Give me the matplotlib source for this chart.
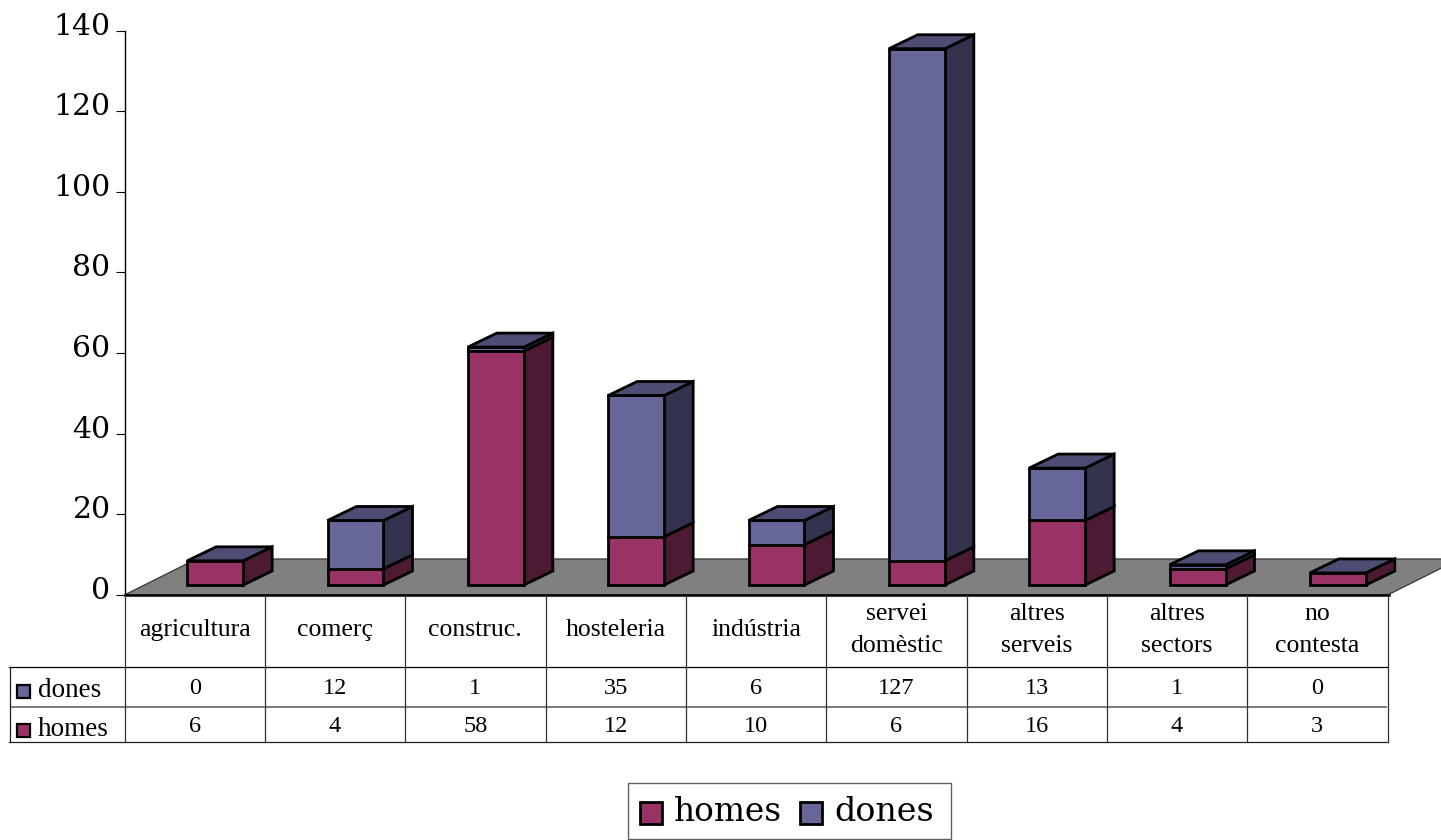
import matplotlib
matplotlib.use("Agg")
import matplotlib.pyplot as plt
from matplotlib.transforms import ScaledTranslation
from matplotlib.patches import Rectangle

categories = ["agricultura", "comerç", "construc.", "hosteleria", "indústria",
              "servei\ndomèstic", "altres\nserveis", "altres\nsectors", "no\ncontesta"]
dones = [0, 12, 1, 35, 6, 127, 13, 1, 0]
homes = [6, 4, 58, 12, 10, 6, 16, 4, 3]
yticks = [0, 20, 40, 60, 80, 100, 120, 140]

W, H = 1441, 840
HOME = "#993366"
HOME_SIDE = "#4d1a33"
DONA = "#666699"
DONA_SIDE = "#33334d"
TOP = "#4d4d73"
FLOOR = "#808080"
SERIF = "DejaVu Serif"
TABLE_FONT = "Liberation Serif"
EDGE = 2.0

fig = plt.figure(figsize=(W / 100, H / 100), dpi=100, facecolor="white")

# plot area, the 3d stuff is just offsets from here
left, right, top, zero = 124.5, 1387.5, 30.5, 595
ax = fig.add_axes([left / W, 1 - zero / H, (right - left) / W, (zero - top) / H])
ax.set_xlim(-0.5, 8.5)
ax.set_ylim(0, 140)
ppx = (right - left) / 9
ppy = (zero - top) / 140

for s in ["top", "right", "bottom"]:
    ax.spines[s].set_visible(False)
ax.spines["left"].set_linewidth(1)
ax.set_xticks([])
ax.set_yticks(yticks)
ax.tick_params(axis="y", length=6.5, width=0.8, pad=3.5, labelsize=21.5)
for lab in ax.get_yticklabels():
    lab.set_family(SERIF)
    lab.set_transform(lab.get_transform() + ScaledTranslation(0, 5 / 72, fig.dpi_scale_trans))

# floor
fdx, fdy = 72 / ppx, 36 / ppy
ax.fill([-0.5, 8.5, 8.5 + fdx, -0.5 + fdx], [0, 0, fdy, fdy], facecolor=FLOOR,
        edgecolor="#404040", linewidth=1, clip_on=False, zorder=1)

# bars
dx, dy = 29 / ppx, 14 / ppy
shift, half = 20.5 / ppx, 28 / ppx
base = 10 / ppy


def box(ax, x0, x1, y0, y1, front, side):
    kw = dict(edgecolor="black", linewidth=EDGE, joinstyle="miter", clip_on=False, zorder=3)
    ax.fill([x1, x1 + dx, x1 + dx, x1], [y0, y0 + dy, y1 + dy, y1], facecolor=side, **kw)
    ax.fill([x0, x1, x1, x0], [y0, y0, y1, y1], facecolor=front, **kw)


for i in range(len(categories)):
    x0, x1 = i + shift - half, i + shift + half
    y1 = base + homes[i]
    y2 = y1 + dones[i]
    box(ax, x0, x1, base, y1, HOME, HOME_SIDE)
    if dones[i] > 0:
        box(ax, x0, x1, y1, y2, DONA, DONA_SIDE)
    ax.fill([x0, x1, x1 + dx, x0 + dx], [y2, y2, y2 + dy, y2 + dy], facecolor=TOP,
            edgecolor="black", linewidth=EDGE, joinstyle="miter", clip_on=False, zorder=3)

# table and legend in pixel coords
ov = fig.add_axes([0, 0, 1, 1], facecolor="none")
ov.set_xlim(0, W)
ov.set_ylim(H, 0)
ov.axis("off")

r0, r1, r2, r3 = 595, 667, 706.5, 742
ov.plot([left, right + 1], [r0, r0], color="black", lw=1.8)
ov.plot([9, right], [r1, r1], color="black", lw=0.9)
ov.plot([12, right - 2], [r2, r2], color="#707070", lw=1.3)
ov.plot([9, right], [r3, r3], color="#202020", lw=0.9)
ov.plot([9.5, 9.5], [r1, r3], color="#202020", lw=0.9)
for i in range(10):
    xl = left + i * ppx
    ov.plot([xl, xl], [r0, r3], color="#303030", lw=0.9)

for i, name in enumerate(categories):
    xc = left + (i + 0.5) * ppx
    ov.text(xc, 630, name, ha="center", va="center", family=TABLE_FONT, fontsize=18.5,
            linespacing=1.56)
    ov.text(xc, 688, str(dones[i]), ha="center", va="center", family=TABLE_FONT, fontsize=17.5)
    ov.text(xc, 726, str(homes[i]), ha="center", va="center", family=TABLE_FONT, fontsize=17.5)

for y, name, col in [(691, "dones", DONA), (729.5, "homes", HOME)]:
    ov.add_patch(Rectangle((17, y - 6), 13, 13, facecolor=col, edgecolor="black", lw=1.6))
    ov.text(38, y - 0.5, name, ha="left", va="center", family=TABLE_FONT, fontsize=19.5)

ov.add_patch(Rectangle((628, 783), 322.5, 56, facecolor="white", edgecolor="#606060", lw=1))
ov.add_patch(Rectangle((640, 802), 21.5, 21.5, facecolor=HOME, edgecolor="black", lw=2))
ov.add_patch(Rectangle((800, 802), 21.5, 21.5, facecolor=DONA, edgecolor="black", lw=2))
ov.text(674, 821, "homes", ha="left", va="baseline", family=SERIF, fontsize=23.6)
ov.text(834, 821, "dones", ha="left", va="baseline", family=SERIF, fontsize=24)

fig.savefig("out.png", dpi=100)
